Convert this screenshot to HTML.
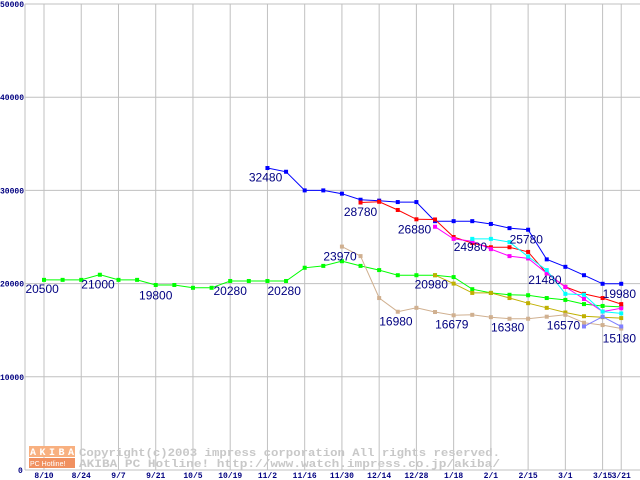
<!DOCTYPE html>
<html><head><meta charset="utf-8"><style>
body{margin:0;background:#fff}
svg{display:block}
.lbl{font:12px "Liberation Sans",sans-serif;fill:#000080}
.tk{font:bold 8px "Liberation Mono",monospace;fill:#000080}
.wm{font:bold 11px "Liberation Mono",monospace;fill:#c8c8c8}
</style></head><body>
<svg id="chart" width="640" height="480" xmlns="http://www.w3.org/2000/svg">
<g id="grid"></g>
<g id="wm">
<rect x="29" y="446" width="46" height="11" fill="#f8b080"/>
<rect x="29" y="458" width="46" height="10" fill="#f09060"/>
<text x="30" y="455" font-family="Liberation Mono" font-size="10" font-weight="bold" fill="#fff" textLength="44">AKIBA</text>
<text x="30" y="466" font-family="Liberation Sans" font-size="7" fill="#fff">PC Hotline!</text>
<text class="wm" x="79" y="456" textLength="421" lengthAdjust="spacingAndGlyphs">Copyright(c)2003 impress corporation All rights reserved.</text>
<text class="wm" x="79" y="467" textLength="421" lengthAdjust="spacingAndGlyphs">AKIBA PC Hotline!  http://www.watch.impress.co.jp/akiba/</text>
</g>
<g id="series"></g>
<g id="labels"></g>
</svg>
<script>
const xTicks=["8/10","8/24","9/7","9/21","10/5","10/19","11/2","11/16","11/30","12/14","12/28","1/18","2/1","2/15","3/1","3/15","3/21"];
const xTickIdx=[0,2,4,6,8,10,12,14,16,18,20,22,24,26,28,30,31];
const yTicks=[0,10000,20000,30000,40000,50000];
const greenVals=[20400,20400,20400,20950,20400,20400,19850,19850,19550,19550,20280,20280,20280,20280,21700,21900,22400,21900,21450,20900,20900,20900,20700,19400,19000,18800,18750,18450,18250,17800,17600,17500];
const blueVals=[32400,32000,30000,30000,29650,29000,28900,28750,28750,26700,26700,26700,26400,25950,25780,22600,21800,20900,19980,19980];
const redVals=[28700,28780,27900,26900,26880,25000,24350,23900,23900,23400,21100,19650,18900,18450,17800];
const magentaVals=[26100,24800,24550,23700,22950,22700,21100,19650,18350,17000,17350];
const cyanVals=[24800,24800,24450,22900,21450,18900,18800,17000,16800];
const oliveVals=[20900,20000,19000,19000,18450,17900,17400,16900,16500,16400,16300];
const tanVals=[23970,22950,18450,16980,17400,16950,16600,16650,16400,16230,16230,16450,16650,15800,15550,15180];
const periVals=[15400,16450,15400];
const seriesStart=[0,12,17,21,23,21,16,29];
const labelTexts=["20500","21000","19800","20280","20280","32480","23970","28780","26880","24980","25780","20980","21480","19980","16980","16679","16380","16570","15180"];
const labelIdx=[-0.1,2.9,6,10,12.9,11.9,15.9,17,19.9,22.9,25.9,20.8,26.9,30.9,18.9,21.9,24.9,27.9,30.9];
const labelVals=[20500,21000,19800,20280,20280,32480,23970,28780,26880,24980,25780,20980,21480,19980,16980,16679,16380,16570,15180];

const NS="http://www.w3.org/2000/svg";
const X=i=>44+i*18.62;
const Y=v=>470-v*0.00932;
function mk(tag,at,parent){const e=document.createElementNS(NS,tag);for(const k in at)e.setAttribute(k,at[k]);parent.appendChild(e);return e;}
const grid=document.getElementById('grid');
yTicks.forEach((v,k)=>{
 const l=mk('line',{x1:25,x2:640,y1:Y(v),y2:Y(v),stroke:'#c0c0c0','stroke-width':1},grid);
 
 
 const t=mk('text',{x:v===0?18:0,y:Y(v)+3,class:'tk'},grid);t.textContent=String(v);
 
 
});
const ax=mk('line',{x1:25,x2:25,y1:4,y2:470,stroke:'#c0c0c0','stroke-width':1},grid);


xTickIdx.forEach((i,k)=>{
 const l=mk('line',{x1:X(i),x2:X(i),y1:4,y2:470,stroke:'#c0c0c0','stroke-width':1},grid);
 
 
 const t=mk('text',{x:X(i),y:478,class:'tk','text-anchor':'middle'},grid);t.textContent=xTicks[k];
 
 
});
const all=[greenVals,blueVals,redVals,magentaVals,cyanVals,oliveVals,tanVals,periVals];
const cols=['#00ff00','#0000ff','#ff0000','#ff00ff','#00ffff','#c0b000','#d0b090','#8080ff'];
const names=['green','blue','red','magenta','cyan','olive','tan','periwinkle'];
const sg=document.getElementById('series');
all.forEach((vals,s)=>{
 const pts=vals.map((v,j)=>X(seriesStart[s]+j).toFixed(1)+','+Y(v).toFixed(1)).join(' ');
 const p=mk('polyline',{points:pts,fill:'none',stroke:cols[s],'stroke-width':1},sg);
 
 
 vals.forEach((v,j)=>{
  const r=mk('rect',{x:X(seriesStart[s]+j)-2,y:Y(v)-2,width:4,height:4,fill:cols[s]},sg);
  
  
 });
});
const lg=document.getElementById('labels');
labelTexts.forEach((s,k)=>{
 const t=mk('text',{x:X(labelIdx[k]),y:Y(labelVals[k])+14,class:'lbl','text-anchor':'middle'},lg);
 t.textContent=s;
 
 
});
</script>
</body></html>
